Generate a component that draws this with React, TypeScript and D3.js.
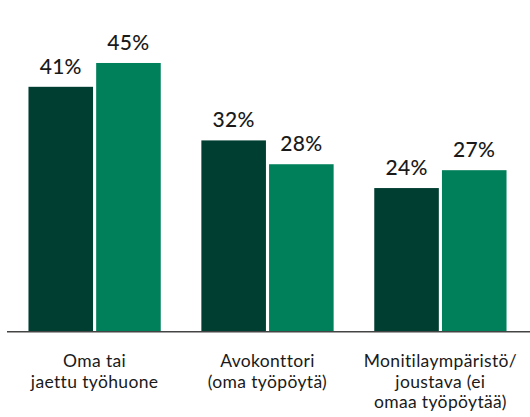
import React from "react";
import * as d3 from "d3";

const categories: string[][] = [
  ["Oma tai", "jaettu työhuone"],
  ["Avokonttori", "(oma työpöytä)"],
  ["Monitilaympäristö/", "joustava (ei", "omaa työpöytää)"],
];
const seriesNames = ["A", "B"];
const seriesA = [41, 32, 24];
const seriesB = [45, 28, 27];
const colors = ["#003e32", "#00805a"];

const W = 530;
const H = 417;
const baseY = 331;

export default function App() {
  const keys = categories.map((_, i) => String(i));
  const x0 = d3.scaleBand<string>().domain(keys).range([6, 529]).paddingInner(0.235).paddingOuter(0.13);
  const x1 = d3.scaleBand<string>().domain(seriesNames).range([0, x0.bandwidth()]).paddingInner(0.046);
  const y = d3.scaleLinear().domain([0, 50]).range([baseY, baseY - 5.956 * 50]);
  const data = [seriesA, seriesB];
  const font = "Lato, 'Noto Sans', sans-serif";
  return (
    <svg width={W} height={H} style={{ position: "absolute", left: 0, top: 0 }}>
      {keys.map((k, ci) => (
        <g key={k} transform={`translate(${x0(k)},0)`}>
          {seriesNames.map((s, si) => {
            const v = data[si][ci];
            const bx = x1(s)!;
            return (
              <g key={s}>
                <rect x={bx} y={y(v)} width={x1.bandwidth()} height={baseY - y(v)} fill={colors[si]} />
                <text
                  x={bx + x1.bandwidth() / 2}
                  y={y(v) - 13}
                  textAnchor="middle"
                  fontFamily={font}
                  fontSize={21}
                  fontWeight={500}
                  letterSpacing={0.3}
                  fill="#1a1a1a"
                >
                  {v}%
                </text>
              </g>
            );
          })}
          {categories[ci].map((line, li) => (
            <text
              key={li}
              x={x0.bandwidth() / 2}
              y={367 + li * 20.7}
              textAnchor="middle"
              fontFamily={font}
              fontSize={17.5}
              letterSpacing={0.35}
              fill="#1a1a1a"
            >
              {line}
            </text>
          ))}
        </g>
      ))}
      <line x1={7} x2={530} y1={baseY + 0.75} y2={baseY + 0.75} stroke="#444" strokeWidth={1.5} />
    </svg>
  );
}
